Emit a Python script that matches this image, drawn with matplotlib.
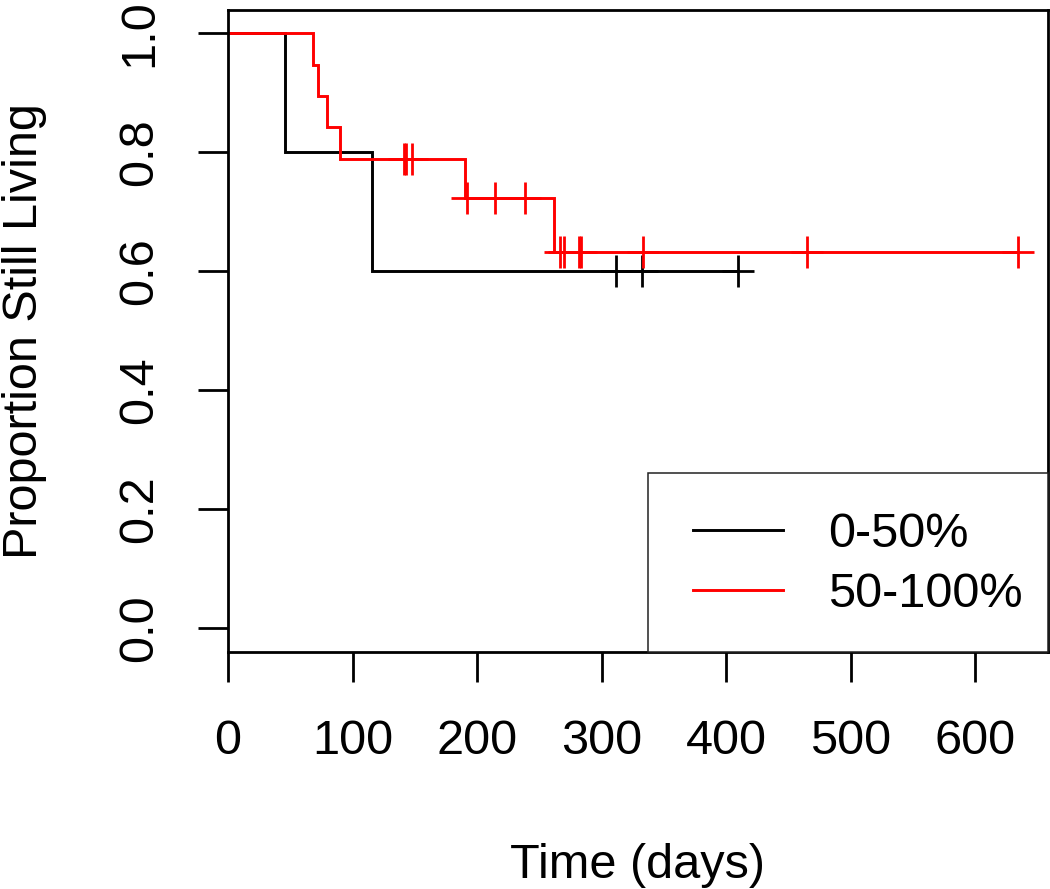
import matplotlib
matplotlib.use('Agg')
import matplotlib.pyplot as plt
from matplotlib.patches import Rectangle
import numpy as np

plt.rcParams['font.family'] = ['Liberation Sans', 'DejaVu Sans']

# Kaplan-Meier 曲线（从图中读取的阶梯点）
black_times = [0, 45.8, 115.4, 409.9]
black_surv = [1.0, 0.800, 0.600, 0.600]
black_censor = [311.6, 332.3, 409.9]

red_times = [0, 68.5, 72.5, 79.3, 90.0, 190.4, 262.0, 634.3]
red_surv = [1.0, 0.947, 0.895, 0.842, 0.789, 0.723, 0.632, 0.632]
red_censor = [141.0, 143.0, 148.0, 192.0, 214.5, 238.5, 266.7, 270.0,
              282.0, 283.5, 333.6, 464.8, 634.3]

labels = ['0-50%', '50-100%']
x_ticks = [0, 100, 200, 300, 400, 500, 600]
y_ticks = [0.0, 0.2, 0.4, 0.6, 0.8, 1.0]


def surv_at(times, surv, t):
    idx = np.searchsorted(times, t, side='right') - 1
    return np.asarray(surv)[idx]


fig = plt.figure(figsize=(10.5, 8.89), dpi=100)
ax = fig.add_axes([228 / 1050, 1 - 652 / 889, 820 / 1050, 642 / 889])

lw = 2.1
for times, surv, cens, color, lab in [
        (black_times, black_surv, black_censor, 'black', labels[0]),
        (red_times, red_surv, red_censor, '#ff0000', labels[1])]:
    ax.step(times, surv, where='post', color=color, linewidth=lw, label=lab,
            solid_joinstyle='miter')
    ax.plot(cens, surv_at(times, surv, cens), linestyle='none', marker='+',
            markersize=23, markeredgewidth=2.0, color=color)

ax.set_xlim(0, 658.6)
ax.set_ylim(-0.0403, 1.0387)
ax.set_xticks(x_ticks)
ax.set_xticklabels([str(v) for v in x_ticks])
ax.set_yticks(y_ticks)
ax.set_yticklabels(['%.1f' % v for v in y_ticks], rotation=90, va='center')

for s in ax.spines.values():
    s.set_linewidth(2.0)
ax.tick_params(axis='both', length=21.6, width=2.0, labelsize=35, direction='out')
ax.tick_params(axis='x', pad=26.5)
ax.tick_params(axis='y', pad=25.5)

ax.set_xlabel('Time (days)', fontsize=35, va='baseline')
ax.xaxis.set_label_coords(0.5, (11 - 237) / 642)
ax.set_ylabel('Proportion Still Living', fontsize=35, va='baseline')
ax.yaxis.set_label_coords((37 - 228) / 820, 0.5)

# 图例框（R 风格，右下角）
ax.add_patch(Rectangle((420 / 820, 0), 400 / 820, 179 / 642, transform=ax.transAxes,
                       facecolor='white', edgecolor='#222222', linewidth=1.1,
                       zorder=4, clip_on=False))
leg = ax.legend(loc='lower right', bbox_to_anchor=(1 + 10 / 820, 0),
                fontsize=35, frameon=False, borderaxespad=0, borderpad=0.72,
                handlelength=1.85, handletextpad=0.93, labelspacing=0.3)
leg.set_zorder(5)
for line in leg.get_lines():
    line.set_linewidth(lw)

fig.savefig('out.png', dpi=100)
